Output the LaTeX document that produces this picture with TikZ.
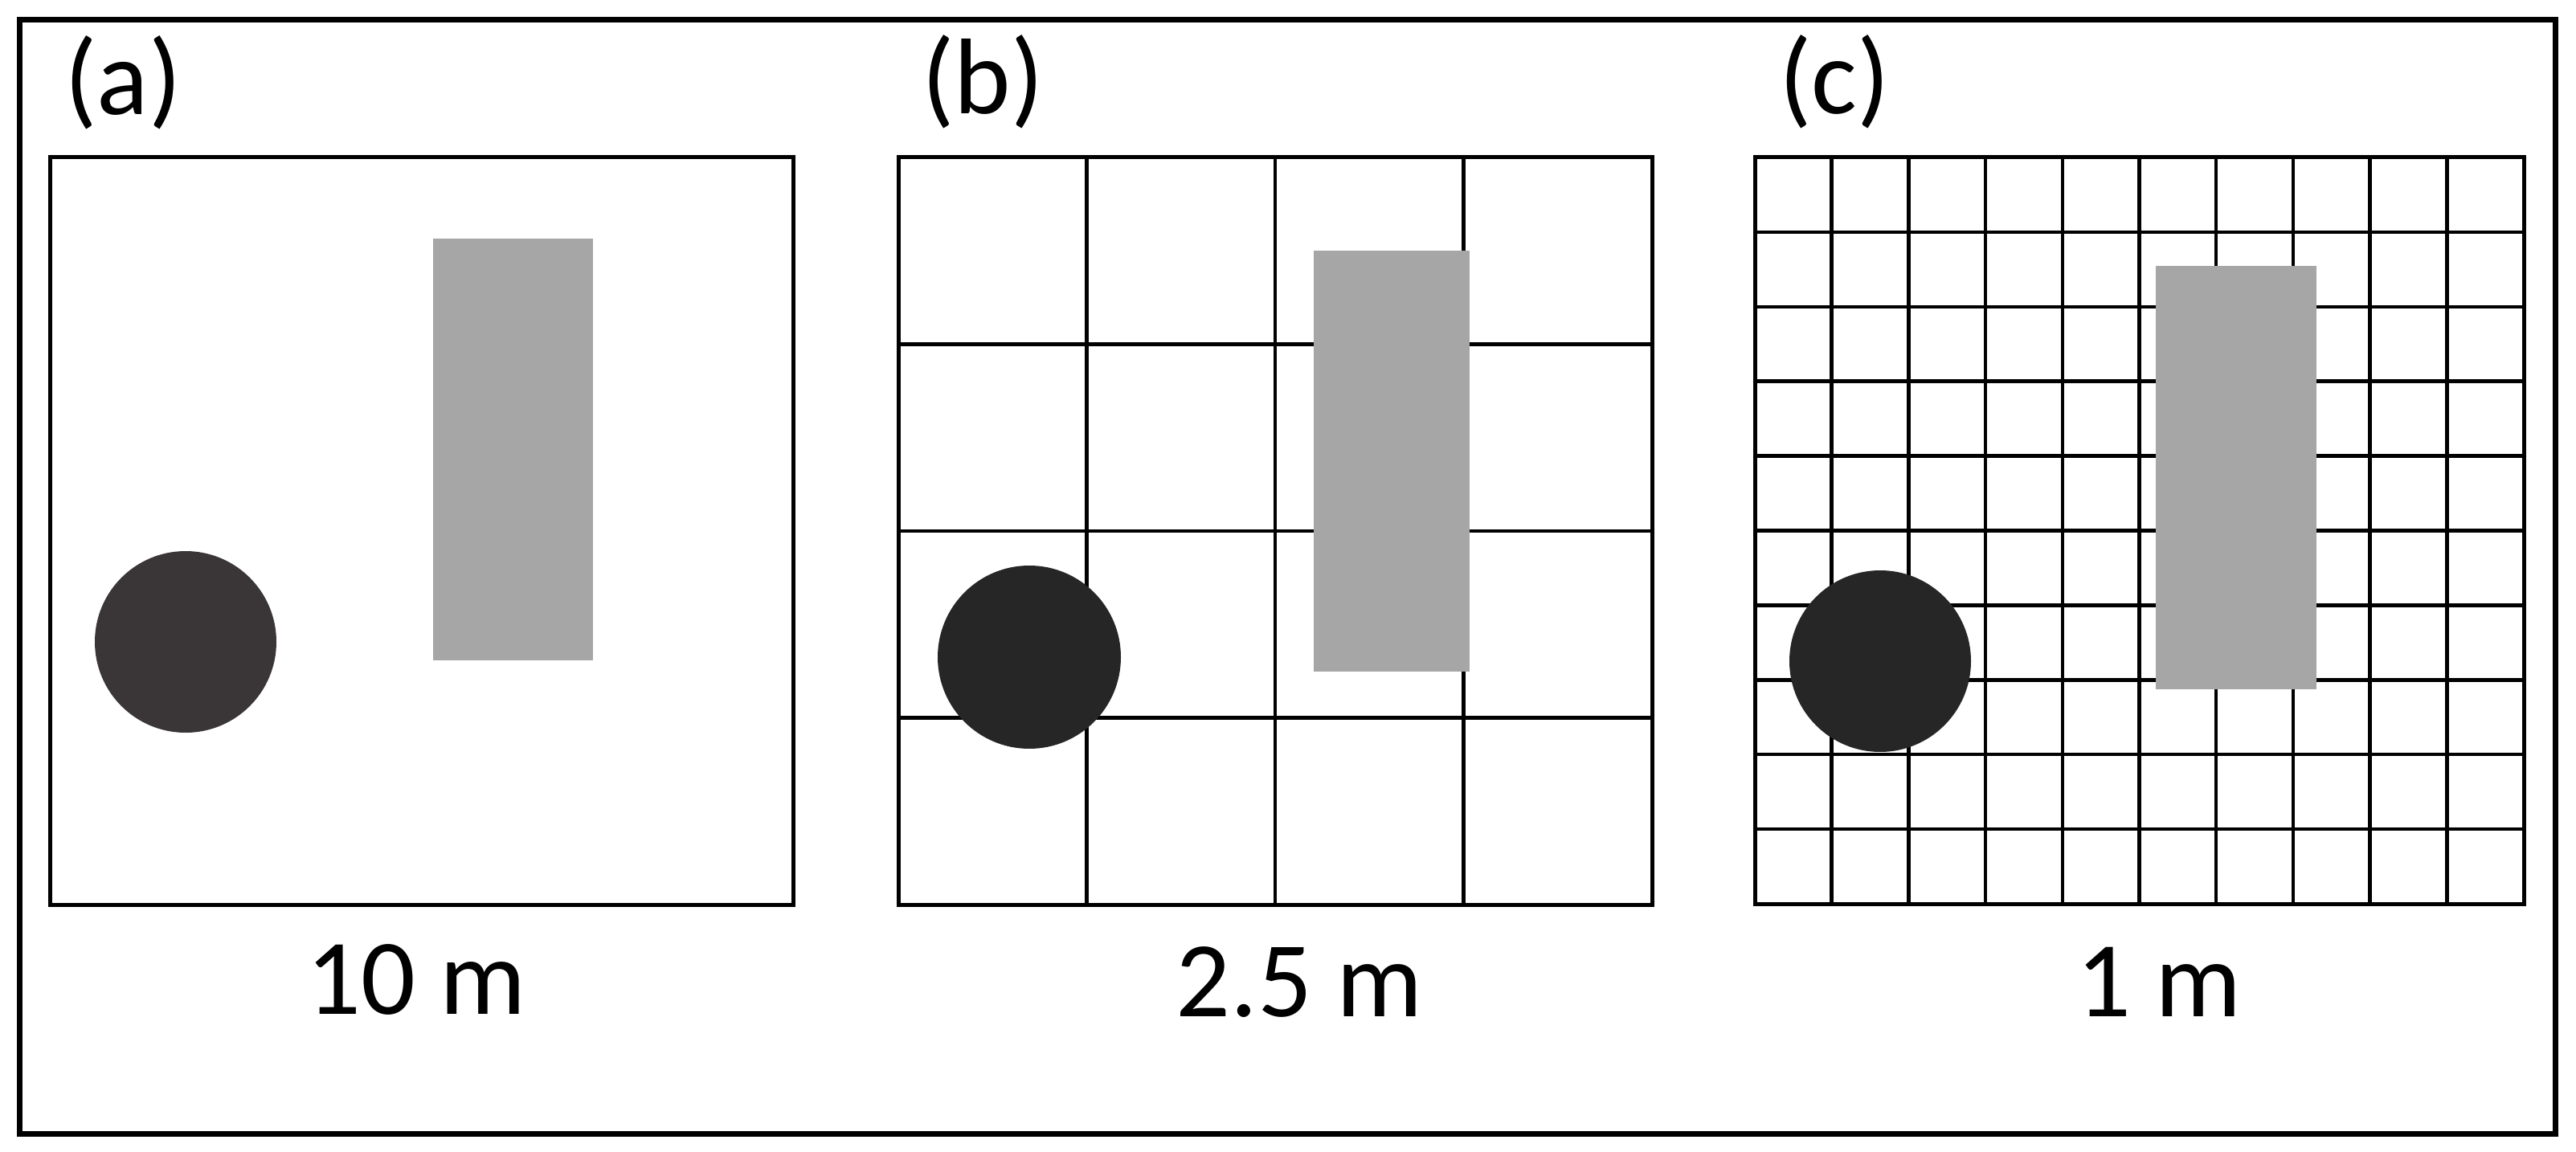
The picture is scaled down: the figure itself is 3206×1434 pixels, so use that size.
\documentclass[tikz,border=0pt]{standalone}
\usepackage{fontspec}
\setmainfont{Carlito}
\definecolor{rectgray}{HTML}{A6A6A6}
\definecolor{circA}{HTML}{3A3637}
\definecolor{circB}{HTML}{262626}
\begin{document}
\begin{tikzpicture}[x=1pt,y=-1pt,
  panel/.style={draw=black,line width=5pt},
  gridline/.style={draw=black,line width=4.5pt},
  frame/.style={draw=black,line width=7pt},
  lbl/.style={inner sep=0pt,anchor=base,font=\fontsize{134}{160}\selectfont},
  obstacle/.style={fill=rectgray},
  tree/.style={fill=#1}
  ]
\useasboundingbox (0,0) rectangle (3206,1434);
\fill[white] (0,0) rectangle (3206,1434);
\draw[frame] (24,25) rectangle (3180,1411);

% panel (a)
\draw[panel] (62,196) rectangle (987,1126);
\fill[obstacle] (539,297) rectangle (738,822);
\fill[tree=circA] (231,799) circle (113);

% panel (b)
\foreach \i in {1,2,3} {
  \draw[gridline] ({1118+\i*234.5},196) -- ({1118+\i*234.5},1126);
  \draw[gridline] (1118,{196+\i*232.5}) -- (2056,{196+\i*232.5});
}
\draw[panel] (1118,196) rectangle (2056,1126);
\fill[obstacle] (1635,312) rectangle (1829,836);
\fill[tree=circB] (1281,818) circle (114);

% panel (c)
\foreach \i in {1,...,9} {
  \draw[gridline] ({2184+\i*95.7},196) -- ({2184+\i*95.7},1125);
  \draw[gridline] (2184,{196+\i*92.9}) -- (3141,{196+\i*92.9});
}
\draw[panel] (2184,196) rectangle (3141,1125);
\fill[obstacle] (2683,331) rectangle (2883,858);
\fill[tree=circB] (2340,823) circle (113);

% labels
\node[lbl] (la) at (153,143) {(a)};
\node[lbl] (lb) at (1223,142) {(b)};
\node[lbl] (lc) at (2283,142) {(c)};
\node[lbl] (sa) at (518,1262) {10 m};
\node[lbl] (sb) at (1617,1265) {2.5 m};
\node[lbl] (sc) at (2687,1265) {1 m};
\end{tikzpicture}
\end{document}
